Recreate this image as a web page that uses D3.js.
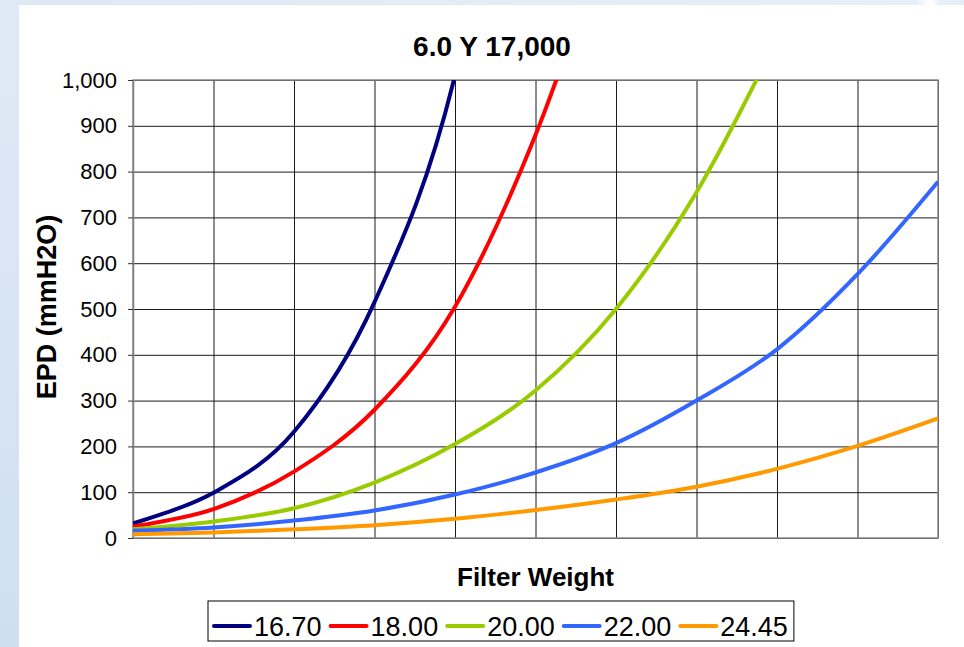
<!DOCTYPE html>
<html>
<head>
<meta charset="utf-8">
<script src="https://cdn.jsdelivr.net/npm/d3@7"></script>
<style>
  html, body { margin: 0; padding: 0; background: #dde9f5; }
  svg { display: block; font-family: "Liberation Sans", Arial, sans-serif; }
</style>
</head>
<body>
<svg id="chart" width="964" height="647"></svg>
<script>
// Filter weight steps along the x axis (unlabelled categories)
const weightSteps = [0, 1, 2, 3, 4, 5, 6, 7, 8, 9, 10];

// Series names (legend)
const seriesNames = ["16.70", "18.00", "20.00", "22.00", "24.45"];

// EPD (mmH2O) per weight step for each series
const epd1670 = [32, 99, 232, 515, 1010, 1950];
const epd1800 = [25, 63, 145, 280, 505, 880, 1380];
const epd2000 = [19, 36, 65, 121, 205, 322, 500, 755, 1090];
const epd2200 = [16, 23, 38, 60, 95, 143, 207, 300, 412, 576, 778];
const epd2445 = [8, 12, 19, 28, 42, 61, 84, 112, 151, 201, 261];

const seriesColors = ["#000080", "#ff0000", "#99cc00", "#3366ff", "#ff9900"];

// Y axis tick values
const yTicks = [0, 100, 200, 300, 400, 500, 600, 700, 800, 900, 1000];

const chartTitle = "6.0 Y 17,000";
const xTitle = "Filter Weight";
const yTitle = "EPD (mmH2O)";

const W = 964, H = 647;
const plot = { left: 133, right: 938, top: 80, bottom: 538 };

const svg = d3.select("#chart");

// page backdrop: light blue frame with white chart panel
const defs = svg.append("defs");
const sideGrad = defs.append("linearGradient").attr("id", "sideGrad")
  .attr("x1", 0).attr("y1", 0).attr("x2", 0).attr("y2", 1);
sideGrad.append("stop").attr("offset", 0).attr("stop-color", "#e0eaf6");
sideGrad.append("stop").attr("offset", 1).attr("stop-color", "#cfdff1");
const topGrad = defs.append("linearGradient").attr("id", "topGrad")
  .attr("x1", 0).attr("y1", 0).attr("x2", 1).attr("y2", 0);
topGrad.append("stop").attr("offset", 0).attr("stop-color", "#dde9f5");
topGrad.append("stop").attr("offset", 0.95).attr("stop-color", "#e6eff8");
topGrad.append("stop").attr("offset", 0.965).attr("stop-color", "#ffffff");
topGrad.append("stop").attr("offset", 0.975).attr("stop-color", "#e8f0f8");
topGrad.append("stop").attr("offset", 1).attr("stop-color", "#e4edf7");

svg.append("rect").attr("x", 0).attr("y", 0).attr("width", W).attr("height", 6).attr("fill", "url(#topGrad)");
svg.append("rect").attr("x", 0).attr("y", 0).attr("width", 19).attr("height", H).attr("fill", "url(#sideGrad)");
svg.append("rect").attr("x", 19).attr("y", 5).attr("width", W - 19).attr("height", H - 5).attr("fill", "#ffffff");

// scales
const x = d3.scalePoint().domain(weightSteps).range([plot.left, plot.right]);
const y = d3.scaleLinear().domain([0, 1000]).range([plot.bottom, plot.top]);

// gridlines
const grid = svg.append("g");
grid.selectAll("line.h").data(yTicks).join("line")
  .attr("x1", plot.left).attr("x2", plot.right)
  .attr("y1", d => y(d) + 0.5).attr("y2", d => y(d) + 0.5)
  .attr("stroke", "#1a1a1a").attr("stroke-width", 1);
grid.selectAll("line.v").data(weightSteps).join("line")
  .attr("y1", plot.top).attr("y2", plot.bottom)
  .attr("x1", d => x(d) + 0.5).attr("x2", d => x(d) + 0.5)
  .attr("stroke", "#1a1a1a").attr("stroke-width", 1);

// plot border
svg.append("rect")
  .attr("x", plot.left).attr("y", plot.top)
  .attr("width", plot.right - plot.left).attr("height", plot.bottom - plot.top)
  .attr("fill", "none").attr("stroke", "#8c8c8c").attr("stroke-width", 1.5);

// y axis
const yAxis = d3.axisLeft(y).tickValues(yTicks).tickFormat(d3.format(",")).tickSizeInner(5).tickSizeOuter(0).tickPadding(11);
const yg = svg.append("g").attr("transform", `translate(${plot.left},0)`).call(yAxis);
yg.select(".domain").attr("stroke", "#808080").attr("stroke-width", 1.5);
yg.selectAll(".tick line").attr("stroke", "#333");
yg.selectAll(".tick text").attr("font-size", 22).attr("fill", "#000")
  .attr("font-family", "'Liberation Sans', Arial, sans-serif");

// series lines
const clip = defs.append("clipPath").attr("id", "plotClip");
clip.append("rect").attr("x", plot.left).attr("y", plot.top)
  .attr("width", plot.right - plot.left).attr("height", plot.bottom - plot.top);

const seriesData = [epd1670, epd1800, epd2000, epd2200, epd2445];
const line = d3.line()
  .x((d, i) => x(weightSteps[i]))
  .y(d => y(d))
  .curve(d3.curveCatmullRom.alpha(0));

svg.append("g").attr("clip-path", "url(#plotClip)")
  .selectAll("path").data(seriesData).join("path")
  .attr("d", d => line(d))
  .attr("fill", "none")
  .attr("stroke", (d, i) => seriesColors[i])
  .attr("stroke-width", 4)
  .attr("stroke-linejoin", "round");

// titles
svg.append("text").attr("x", 492).attr("y", 56)
  .attr("text-anchor", "middle").attr("font-weight", "bold").attr("font-size", 28)
  .text(chartTitle);
svg.append("text").attr("x", (plot.left + plot.right) / 2).attr("y", 586)
  .attr("text-anchor", "middle").attr("font-weight", "bold").attr("font-size", 26)
  .text(xTitle);
svg.append("text").attr("transform", `translate(56,${(plot.top + plot.bottom) / 2 - 2}) rotate(-90)`)
  .attr("text-anchor", "middle").attr("font-weight", "bold").attr("font-size", 27)
  .text(yTitle);

// legend
const legend = svg.append("g");
const legBox = legend.append("rect").attr("fill", "#fff").attr("stroke", "#000").attr("stroke-width", 1);
let cx = 214;
const legY = 626;
seriesNames.forEach((name, i) => {
  legend.append("line").attr("x1", cx).attr("x2", cx + 36).attr("y1", legY).attr("y2", legY)
    .attr("stroke", seriesColors[i]).attr("stroke-width", 4).attr("stroke-linecap", "round");
  const t = legend.append("text").attr("x", cx + 40).attr("y", legY + 10)
    .attr("font-size", 27).text(name);
  cx += 40 + t.node().getComputedTextLength() + 9;
});
legBox.attr("x", 208).attr("y", 601).attr("width", cx - 208 - 3).attr("height", 40);
</script>
</body>
</html>
